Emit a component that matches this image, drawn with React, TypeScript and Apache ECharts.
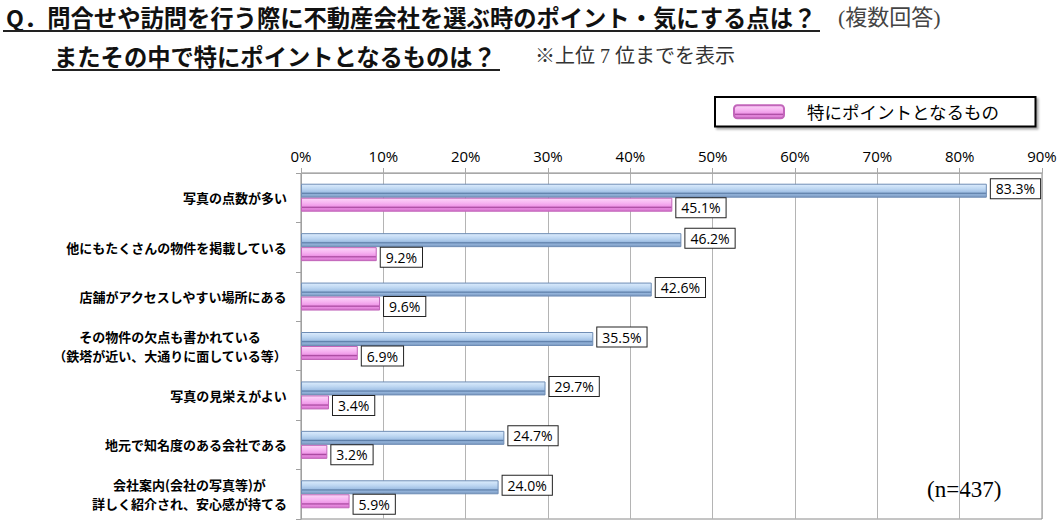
import React, { useEffect, useRef } from "react";
import * as echarts from "echarts";

const categories = [
  "写真の点数が多い",
  "他にもたくさんの物件を掲載している",
  "店舗がアクセスしやすい場所にある",
  "その物件の欠点も書かれている\n（鉄塔が近い、大通りに面している等）",
  "写真の見栄えがよい",
  "地元で知名度のある会社である",
  "会社案内(会社の写真等)が\n詳しく紹介され、安心感が持てる",
];
const allPoints = [83.3, 46.2, 42.6, 35.5, 29.7, 24.7, 24.0];
const specialPoints = [45.1, 9.2, 9.6, 6.9, 3.4, 3.2, 5.9];
const seriesNames = ["ポイント・気にする点", "特にポイントとなるもの"];
const titleLine1 = "Q．問合せや訪問を行う際に不動産会社を選ぶ時のポイント・気にする点は？";
const titleNote1 = "(複数回答)";
const titleLine2 = "またその中で特にポイントとなるものは？";
const titleNote2 = "※上位 7 位までを表示";
const sampleNote = "(n=437)";

const JP = '"Noto Sans CJK JP", "Noto Sans", sans-serif';
const SERIF = '"Liberation Serif", "DejaVu Serif", "Noto Sans CJK JP", serif';

export default function App() {
  const ref = useRef<HTMLDivElement>(null);
  useEffect(() => {
    if (!ref.current) return;
    const chart = echarts.init(ref.current, undefined, { renderer: "svg" });
    const blue = new echarts.graphic.LinearGradient(0, 0, 0, 1, [
      { offset: 0, color: "#dcecfd" },
      { offset: 0.35, color: "#bed7f2" },
      { offset: 0.6, color: "#a3c2e6" },
      { offset: 0.7, color: "#5d7ea8" },
      { offset: 0.8, color: "#93b3da" },
      { offset: 1, color: "#7896bd" },
    ]);
    const pink = new echarts.graphic.LinearGradient(0, 0, 0, 1, [
      { offset: 0, color: "#fcd6f8" },
      { offset: 0.35, color: "#f7b6f2" },
      { offset: 0.6, color: "#f09ae9" },
      { offset: 0.7, color: "#a8489f" },
      { offset: 0.8, color: "#e88ae0" },
      { offset: 1, color: "#cf6fc7" },
    ]);
    const labelBase = {
      show: true,
      position: "right" as const,
      distance: 4,
      formatter: (p: any) => p.value.toFixed(1) + "%",
      backgroundColor: "#fff",
      borderColor: "#222",
      borderWidth: 1,
      padding: [3, 5, 2, 5],
      color: "#000",
      fontSize: 14,
      fontFamily: '"Open Sans", "Noto Sans", sans-serif',
    };
    chart.setOption({
      animation: false,
      backgroundColor: "#fff",
      grid: {
        left: 301,
        right: 21,
        top: 173,
        bottom: 8,
        show: true,
        borderColor: "#8a8a8a",
        borderWidth: 1,
      },
      legend: {
        data: [seriesNames[1]],
        left: 715,
        top: 97,
        orient: "horizontal",
        itemWidth: 50,
        itemHeight: 13,
        padding: [6, 36, 6, 18],
        backgroundColor: "#fff",
        borderColor: "#000",
        borderWidth: 2,
        shadowColor: "rgba(0,0,0,0.35)",
        shadowOffsetX: 2,
        shadowOffsetY: 2,
        shadowBlur: 2,
        textStyle: {
          fontSize: 17.5,
          fontFamily: JP,
          color: "#000",
          padding: [0, 0, 0, 18],
        },
      },
      xAxis: {
        type: "value",
        position: "top",
        min: 0,
        max: 90,
        interval: 10,
        axisLabel: {
          formatter: "{value}%",
          fontSize: 15,
          color: "#000",
          margin: 10,
          fontFamily: '"Open Sans", "Noto Sans", sans-serif',
        },
        axisLine: { show: true, lineStyle: { color: "#a8a8a8" } },
        axisTick: { show: true, length: 5, lineStyle: { color: "#a8a8a8" } },
        splitLine: { show: true, lineStyle: { color: "#b4b4b4" } },
      },
      yAxis: {
        type: "category",
        data: categories,
        inverse: true,
        axisLine: { show: true, lineStyle: { color: "#a0a0a0" } },
        axisTick: { show: true, length: 5, lineStyle: { color: "#a0a0a0" } },
        axisLabel: {
          margin: 14,
          formatter: (v: string) =>
            v
              .split("\n")
              .map((l) => "{c|" + l + "}")
              .join("\n"),
          rich: {
            c: {
              align: "center",
              fontSize: 13,
              fontWeight: "bold",
              fontFamily: JP,
              color: "#000",
              lineHeight: 19,
            },
          },
        },
      },
      series: [
        {
          name: seriesNames[0],
          type: "bar",
          data: allPoints,
          barWidth: 14,
          barGap: "0%",
          itemStyle: { color: blue, borderColor: "#6f8db5", borderWidth: 1 },
          label: { ...labelBase, offset: [0, -2] },
        },
        {
          name: seriesNames[1],
          type: "bar",
          data: specialPoints,
          barWidth: 14,
          barGap: "0%",
          itemStyle: { color: pink, borderColor: "#c265ba", borderWidth: 1 },
          label: { ...labelBase, offset: [0, 3] },
        },
      ],
      graphic: [
        {
          type: "text",
          left: 6,
          top: 5,
          style: {
            text: titleLine1,
            fontSize: 23.3,
            fontWeight: "bold",
            fontFamily: JP,
            fill: "#111",
          },
        },
        {
          type: "line",
          shape: { x1: 3, y1: 31, x2: 820, y2: 31 },
          style: { stroke: "#222", lineWidth: 2 },
        },
        {
          type: "text",
          left: 838,
          top: 6,
          style: {
            text: titleNote1,
            fontSize: 22,
            fontFamily: SERIF,
            fill: "#444",
          },
        },
        {
          type: "text",
          left: 54,
          top: 44,
          style: {
            text: titleLine2,
            fontSize: 23.3,
            fontWeight: "bold",
            fontFamily: JP,
            fill: "#111",
          },
        },
        {
          type: "line",
          shape: { x1: 52, y1: 70, x2: 500, y2: 70 },
          style: { stroke: "#222", lineWidth: 2 },
        },
        {
          type: "text",
          left: 535,
          top: 46,
          style: {
            text: titleNote2,
            fontSize: 20,
            fontFamily: SERIF,
            fill: "#333",
          },
        },
        {
          type: "text",
          left: 927,
          top: 478,
          style: {
            text: sampleNote,
            fontSize: 23,
            fontFamily: SERIF,
            fill: "#000",
          },
        },
      ],
    });
    return () => chart.dispose();
  }, []);
  return (
    <div
      ref={ref}
      style={{ position: "fixed", left: 0, top: 0, width: 1063, height: 527 }}
    />
  );
}
